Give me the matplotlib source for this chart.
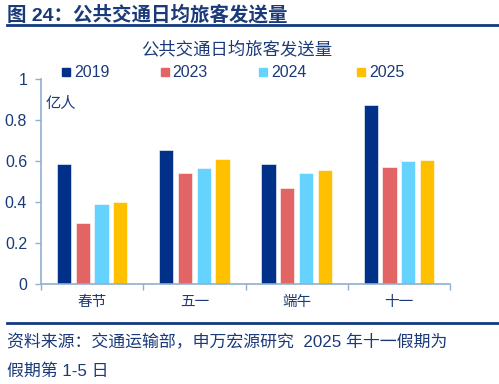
import numpy as np
import matplotlib
matplotlib.use('Agg')
import matplotlib.pyplot as plt
from matplotlib.lines import Line2D

plt.rcParams['font.family'] = ['Liberation Sans', 'Noto Sans CJK SC', 'DejaVu Sans']

# Data (亿人)
categories = ['春节', '五一', '端午', '十一']
years = ['2019', '2023', '2024', '2025']
v2019 = [0.584, 0.652, 0.587, 0.873]
v2023 = [0.299, 0.540, 0.470, 0.572]
v2024 = [0.390, 0.566, 0.541, 0.598]
v2025 = [0.398, 0.608, 0.558, 0.603]
series = [v2019, v2023, v2024, v2025]
colors = ['#003087', '#E36464', '#66D3FF', '#FFC000']

TEXT = '#1B3A7A'
AXIS = '#8EAFCF'

fig = plt.figure(figsize=(4.99, 3.84), dpi=100)
ax = fig.add_axes([0.0822, 0.2604, 0.8196, 0.5339])

x = np.arange(len(categories))
width = 0.14
step = 0.183
for i, (vals, c, yr) in enumerate(zip(series, colors, years)):
    ax.bar(x + (i - 1.5) * step, vals, width, color=c, edgecolor='white',
           linewidth=0.4, label=yr, zorder=2)

ax.set_xlim(-0.5, len(categories) - 0.5)
ax.set_ylim(0, 1)
ax.set_yticks([0, 0.2, 0.4, 0.6, 0.8, 1.0])
ax.set_yticklabels(['0', '0.2', '0.4', '0.6', '0.8', '1'])
ax.set_xticks(np.arange(-0.5, len(categories), 1.0))
ax.set_xticklabels([])
ax.set_xticks(x, minor=True)
ax.set_xticklabels(categories, minor=True)
ax.tick_params(axis='x', which='minor', length=0, pad=8, labelsize=10.5, labelcolor=TEXT)
ax.tick_params(axis='x', which='major', length=4, color=AXIS, width=1)
ax.tick_params(axis='y', length=4, color=AXIS, width=1, labelsize=11.5,
               labelcolor=TEXT, pad=6)

for s in ['top', 'right']:
    ax.spines[s].set_visible(False)
for s in ['left', 'bottom']:
    ax.spines[s].set_color(AXIS)
    ax.spines[s].set_linewidth(1.2)

ax.text(0.01, 0.88, '亿人', transform=ax.transAxes, fontsize=11, color=TEXT,
        va='center', ha='left')

# legend
handles = [Line2D([0], [0], marker='s', linestyle='none', markersize=6,
                  markerfacecolor=c, markeredgecolor=c) for c in colors]
leg = fig.legend(handles, years, loc='center', bbox_to_anchor=(0.466, 0.81),
                 ncol=4, frameon=False, fontsize=11.5, handletextpad=0.15,
                 columnspacing=3.1, handlelength=0.7)
for t in leg.get_texts():
    t.set_color(TEXT)

# titles
fig.text(0.014, 0.963, '图 24：公共交通日均旅客发送量', fontsize=14,
         fontweight='bold', color='#1B3A7A', ha='left', va='center')
fig.add_artist(Line2D([0.014, 1.0], [0.934, 0.934], color='#12387F',
                      linewidth=2))
fig.text(0.475, 0.873, '公共交通日均旅客发送量', fontsize=12.5, color=TEXT,
         ha='center', va='center')

# bottom rule and source
fig.add_artist(Line2D([0.014, 1.0], [0.159, 0.159], color='#12387F',
                      linewidth=2))
fig.text(0.014, 0.110, '资料来源：交通运输部，申万宏源研究  2025 年十一假期为',
         fontsize=12.2, color=TEXT, ha='left', va='center')
fig.text(0.014, 0.034, '假期第 1-5 日', fontsize=12.2, color=TEXT,
         ha='left', va='center')

fig.savefig('out.png', dpi=100)
